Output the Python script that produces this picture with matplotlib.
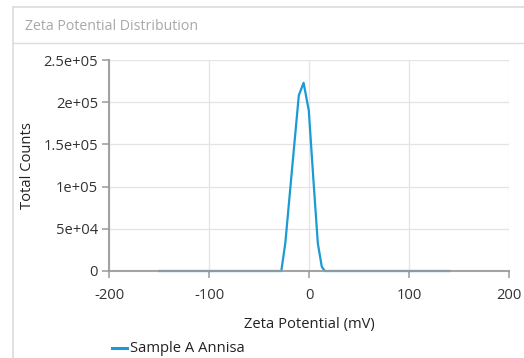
import matplotlib
matplotlib.use("Agg")
import matplotlib.pyplot as plt
from matplotlib.lines import Line2D

plt.rcParams['font.family'] = ['Open Sans', 'DejaVu Sans']
plt.rcParams['axes.unicode_minus'] = False

# Zeta potential distribution (mV vs total counts)
zeta_mv = [-150, -100, -50, -28, -24, -17, -10.5, -5.7, -0.5, 4, 8.5, 12.5, 15.5, 50, 100, 140]
counts = [0, 0, 0, 0, 33000, 124000, 208000, 223000, 190000, 110000, 33000, 5000, 0, 0, 0, 0]

x_ticks = [-200, -100, 0, 100, 200]
y_ticks = [0, 50000, 100000, 150000, 200000, 250000]
y_tick_labels = ["0", "5e+04", "1e+05", "1.5e+05", "2e+05", "2.5e+05"]

title = "Zeta Potential Distribution"
series_name = "Sample A Annisa"

FS = 10.6
fig = plt.figure(figsize=(5.24, 3.58), dpi=100)
W, H = 524, 358

def px(x, y):
    return x / W, 1 - y / H

# Panel frame: left edge, top edge and header separator
frame = "#dcdcdc"
fig.lines.append(Line2D([13 / W, 13 / W], [0, 1 - 7 / H], transform=fig.transFigure,
                        color=frame, linewidth=1.2))
fig.lines.append(Line2D([13 / W, 1], [1 - 7 / H, 1 - 7 / H], transform=fig.transFigure,
                        color=frame, linewidth=1.2))
fig.lines.append(Line2D([13 / W, 1], [1 - 43 / H, 1 - 43 / H], transform=fig.transFigure,
                        color=frame, linewidth=1.0))
fig.text(*px(25, 26), title, fontsize=10.2, color="#a8a8a8", va="center", ha="left")

ax = fig.add_axes([109.3 / W, 1 - 271 / H, 400 / W, 211 / H])
ax.plot(zeta_mv, counts, color="#1b9bd4", linewidth=1.6, solid_joinstyle="round", zorder=2,
        clip_on=False)

ax.set_xlim(-200, 200)
ax.set_ylim(0, 250000)
ax.set_xticks(x_ticks)
ax.set_yticks(y_ticks)
ax.set_yticklabels(y_tick_labels)
ax.grid(True, color="#e3e3e3", linewidth=0.9)
ax.set_axisbelow(True)

for side in ["top", "right"]:
    ax.spines[side].set_visible(False)
for side in ["left", "bottom"]:
    ax.spines[side].set_color("#9a9a9a")
    ax.spines[side].set_alpha(0.9)
    ax.spines[side].set_linewidth(1.5)
    ax.spines[side].set_zorder(3)

ax.tick_params(axis="both", colors="#9a9a9a", labelcolor="#333333", labelsize=FS,
               length=5, width=1.1, direction="out")
ax.tick_params(axis="x", pad=7.5)
ax.tick_params(axis="y", pad=3)

ax.set_xlabel("Zeta Potential (mV)", fontsize=FS, color="#222222", labelpad=9.5)
ax.set_ylabel("Total Counts", fontsize=FS, color="#222222", labelpad=6)

# Legend entry below the axis title
fig.lines.append(Line2D([112 / W, 127 / W], [1 - 348 / H, 1 - 348 / H], transform=fig.transFigure,
                        color="#1b9bd4", linewidth=2.2))
fig.text(*px(130, 348.5), series_name, fontsize=FS, color="#222222", va="center", ha="left")

fig.savefig("out.png", dpi=100, facecolor="white")
